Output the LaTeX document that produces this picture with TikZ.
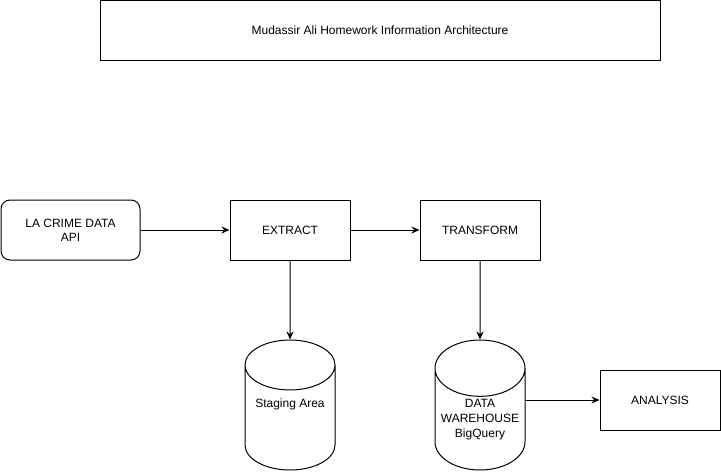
\documentclass[tikz,border=0pt]{standalone}
\usepackage{fontspec}
\setmainfont{Liberation Sans}
\usetikzlibrary{arrows.meta,positioning,shapes.geometric}
\tikzset{every picture/.style={font=\fontsize{12}{14}\selectfont}}

\begin{document}
\begin{tikzpicture}
		[x=1pt, y=-1pt, line width=1pt, inner sep=0pt,
		>={Stealth[length=8pt, width=7pt]},
		stagebox/.style={draw, minimum width=120pt, minimum height=60pt, align=center},
		sourcebox/.style={stagebox, rounded corners=9pt},
		store/.style={draw, cylinder, shape border rotate=90, aspect=0.72,
			minimum width=90pt, minimum height=130pt, align=center,
			anchor=shape center}]
		
		\useasboundingbox (0, 0) rectangle (721, 472);
		
		% title ----------------------------------------------
		\node[stagebox, minimum width=560pt] (title) at (380, 30)
		{Mudassir Ali Homework Information Architecture};
		
		% pipeline -------------------------------------------
		\node[sourcebox, minimum width=139pt] (api) at (70.5, 230) {LA CRIME DATA\\API};
		\node[stagebox] (extract) at (290, 230) {EXTRACT};
		\node[stagebox] (transform) at (480, 230) {TRANSFORM};
		
		% storage --------------------------------------------
		\node[store, text depth=30pt] (staging) at (290, 405) {Staging Area};
		\node[store] (warehouse) at (480, 405)
		{DATA\\[1pt]WAREHOUSE\\[1pt]BigQuery};
		
		\node[stagebox] (analysis) at (660, 400) {ANALYSIS};
		
		% arrows ---------------------------------------------
		\draw[->] (api) -- (extract);
		\draw[->] (extract) -- (transform);
		\draw[->] (extract) -- (staging);
		\draw[->] (transform) -- (warehouse);
		\draw[->] (warehouse.east |- analysis.west) -- (analysis.west);
\end{tikzpicture}
\end{document}
